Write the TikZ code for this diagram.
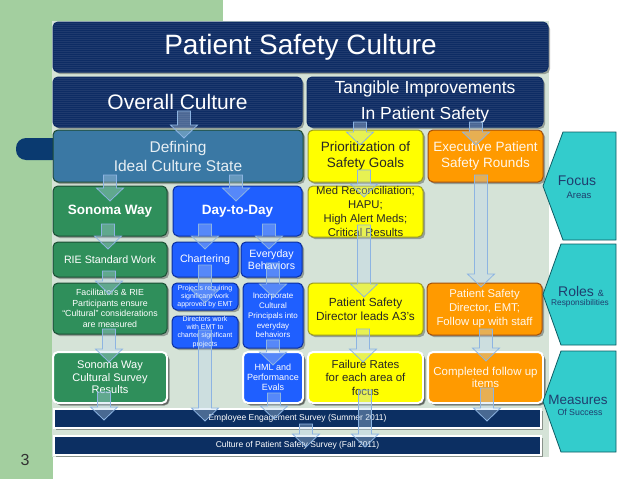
\documentclass[tikz,border=0pt]{standalone}
\usepackage{fontspec}
\setmainfont{Liberation Sans}
\usetikzlibrary{shadows}
\definecolor{navy}{HTML}{0E2C64}
\definecolor{barnavy}{HTML}{0C2F62}
\definecolor{tabc}{HTML}{0A3A70}
\definecolor{defc}{HTML}{3A78A4}
\definecolor{defd}{HTML}{1E4B33}
\definecolor{grn}{HTML}{2F8F5B}
\definecolor{grnd}{HTML}{1B4D33}
\definecolor{blu}{HTML}{1F5FFF}
\definecolor{blud}{HTML}{0A2E9E}
\definecolor{yel}{HTML}{FFFF00}
\definecolor{yeld}{HTML}{9A9A20}
\definecolor{org}{HTML}{FF9A00}
\definecolor{orgd}{HTML}{A24E0A}
\definecolor{teal}{HTML}{33CCCC}
\definecolor{teald}{HTML}{0E5C63}
\definecolor{panel}{HTML}{D5E3D7}
\definecolor{leftg}{HTML}{A3CF9F}
\definecolor{chevtxt}{HTML}{1F3E6E}
\definecolor{arrline}{HTML}{8DB4E2}
\definecolor{arrfill}{HTML}{BDD7EE}
\newcommand\fs[2]{\fontsize{#1}{#2}\selectfont}
\tikzset{
  box/.style={rounded corners=5pt, inner sep=0pt, align=center, line width=1pt,
    drop shadow={shadow xshift=2pt, shadow yshift=-2pt, fill=black, opacity=0.3}},
  navybox/.style={box, fill=navy, draw=navy, text=white,
    path picture={\foreach \yy in {1,3,...,59}
      \draw[white, opacity=0.07, line width=0.5pt]
        ([yshift=-\yy pt]path picture bounding box.north west) --
        ([yshift=-\yy pt]path picture bounding box.north east);}},
  defbox/.style={box, fill=defc, draw=defd, text=white!88!defc},
  grnbox/.style={box, fill=grn, draw=grnd, text=white},
  blubox/.style={box, fill=blu, draw=blud, text=white},
  yelbox/.style={box, fill=yel, draw=yeld, text=black!85},
  orgbox/.style={box, fill=org, draw=orgd, text=white!92!org},
  wborder/.style={draw=white, line width=2pt,
    drop shadow={shadow xshift=2.5pt, shadow yshift=-2.5pt, fill=black, opacity=0.35}},
  barbox/.style={fill=barnavy, draw=white, line width=1.5pt, inner sep=0pt, text=white,
    font=\fs{8.5}{10},
    drop shadow={shadow xshift=2pt, shadow yshift=-2pt, fill=black, opacity=0.35}},
  chev/.style={fill=teal, draw=teald, line width=0.8pt},
  chevtext/.style={text=chevtxt, inner sep=0pt},
  blockarr/.style={draw=arrline, fill=arrfill, fill opacity=0.35, line width=0.8pt, line join=miter}
}
\newcommand\bx[7]{\node[#6, minimum width={(#4-#2)*1pt}, minimum height={(#5-#3)*1pt}] (#1) at ({(#2+#4)/2},{(#3+#5)/2}) {#7};}
\newcommand\dar[3]{\draw[blockarr] ({#1-6.5},#2) -- ({#1+6.5},#2) -- ({#1+6.5},{#3-13}) -- ({#1+13.5},{#3-13}) -- (#1,#3) -- ({#1-13.5},{#3-13}) -- ({#1-6.5},{#3-13}) -- cycle;}
\begin{document}
\begin{tikzpicture}[x=1pt,y=-1pt]
\useasboundingbox (0,0) rectangle (638,479);
\fill[white] (0,0) rectangle (638,479);
% background
\fill[leftg] (0,0) rectangle (223,21);
\fill[leftg] (0,0) rectangle (53,479);
\fill[panel] (52,21) rectangle (549,457);
% left tab
\fill[tabc, rounded corners=10pt] (16,138) rectangle (70,160);
% header boxes
\bx{title}{53}{22}{548}{72}{navybox,font=\fs{28}{32}}{Patient Safety Culture}
\bx{overall}{53}{77}{302}{127}{navybox,font=\fs{21}{24}}{Overall Culture}
\bx{tangible}{307}{77}{543}{127}{navybox,font=\fs{17.5}{26}}{Tangible Improvements\\In Patient Safety}
% row: focus
\bx{defining}{53}{130}{303}{182}{defbox,font=\fs{15.5}{19}}{Defining\\Ideal Culture State}
\bx{prior}{308}{130}{423}{182}{yelbox,font=\fs{13.5}{16}}{Prioritization of\\Safety Goals}
\bx{exec}{428}{130}{543}{182}{orgbox,font=\fs{13.5}{16}}{Executive Patient\\Safety Rounds}
\bx{sonoma}{53}{186}{167}{236}{grnbox,font=\fs{13.5}{16}\bfseries}{Sonoma Way}
\bx{day}{173}{186}{302}{236}{blubox,font=\fs{13.5}{16}\bfseries}{Day-to-Day}
\bx{med}{308}{186}{423}{237}{yelbox,font=\fs{11.3}{14}}{Med Reconciliation;\\HAPU;\\High Alert Meds;\\Critical Results}
% row: roles
\bx{rie}{53}{242}{167}{277}{grnbox,font=\fs{10.7}{13}}{RIE Standard Work}
\bx{chart}{172}{242}{238}{277}{blubox,font=\fs{10.7}{13}}{Chartering}
\bx{every}{241}{242}{302}{277}{blubox,font=\fs{10.6}{12.5}}{Everyday\\Behaviors}
\bx{facil}{53}{283}{167}{334}{grnbox,font=\fs{8.8}{10.5}}{Facilitators \& RIE\\Participants ensure\\``Cultural'' considerations\\are measured}
\bx{proj}{172}{283}{238}{310}{blubox,font=\fs{7}{8}}{Projects requiring\\significant work\\approved by EMT}
\bx{direct}{172}{316}{238}{348}{blubox,font=\fs{7}{8.3}}{Directors work\\with EMT to\\charter significant\\projects}
\bx{incorp}{243}{283}{303}{348}{blubox,font=\fs{8}{9.8}}{Incorporate\\Cultural\\Principals into\\everyday\\behaviors}
\bx{psa}{308}{283}{423}{335}{yelbox,font=\fs{11.8}{14}}{Patient Safety\\Director leads A3's}
\bx{psemt}{427}{283}{542}{335}{orgbox,font=\fs{11.3}{14}}{Patient Safety\\Director, EMT;\\Follow up with staff}
% row: measures
\bx{sonsurv}{53}{352}{167}{403}{grnbox,wborder,font=\fs{11}{12.5}}{Sonoma Way\\Cultural Survey\\Results}
\bx{hml}{243}{352}{303}{403}{blubox,wborder,font=\fs{9}{10}}{HML and\\Performance\\Evals}
\bx{fail}{308}{352}{423}{403}{yelbox,wborder,font=\fs{11.4}{13.5}}{Failure Rates\\for each area of\\focus}
\bx{compl}{428}{352}{543}{403}{orgbox,wborder,font=\fs{11.5}{12.5}}{Completed follow up\\items}
% bars
\bx{empbar}{54}{409}{541}{428}{barbox}{Employee Engagement Survey (Summer 2011)}
\bx{cultbar}{54}{436}{541}{455}{barbox}{Culture of Patient Safety Survey (Fall 2011)}
% chevrons
\draw[chev] (563,132) -- (616,132) -- (616,240) -- (563,240) -- (543,186) -- cycle;
\draw[chev] (561,244) -- (616,244) -- (616,345) -- (561,345) -- (543,294.5) -- cycle;
\draw[chev] (561,351) -- (616,351) -- (616,452) -- (561,452) -- (543,401.5) -- cycle;
\node[chevtext, font=\fs{14}{16}] (focus) at (577,181) {Focus};
\node[chevtext, font=\fs{9.5}{11}] (areas) at (579,195) {Areas};
\node[chevtext, font=\fs{14}{16}] (roles) at (581,291) {Roles \fs{9}{10}\&};
\node[chevtext, font=\fs{8.3}{10}] (resp) at (580,303) {Responsibilities};
\node[chevtext, font=\fs{13.5}{16}] (meas) at (578,400) {Measures};
\node[chevtext, font=\fs{8.8}{10}] (succ) at (580,412) {Of Success};
% page number
\node[text=black!80, font=\fs{16}{18}] (pnum) at (25,460) {3};
% block arrows
\dar{184}{111}{138}
\dar{110}{175}{201}
\dar{236}{175}{201}
\dar{360}{122}{145}
\dar{476}{122}{145}
\dar{364}{170}{197}
\dar{364}{225}{297}
\dar{481}{175}{287}
\dar{108}{224}{249}
\dar{205}{224}{249}
\dar{269}{224}{249}
\dar{109}{271}{294}
\dar{205}{265}{303}
\dar{273}{263}{297}
\dar{109}{329}{362}
\dar{363}{329}{362}
\dar{486}{329}{361}
\dar{273}{340}{365}
\dar{104}{392}{420}
\dar{205}{330}{421}
\dar{274}{393}{419}
\dar{487}{388}{421}
\dar{365}{390}{447}
\dar{306}{424}{447}
\end{tikzpicture}
\end{document}
